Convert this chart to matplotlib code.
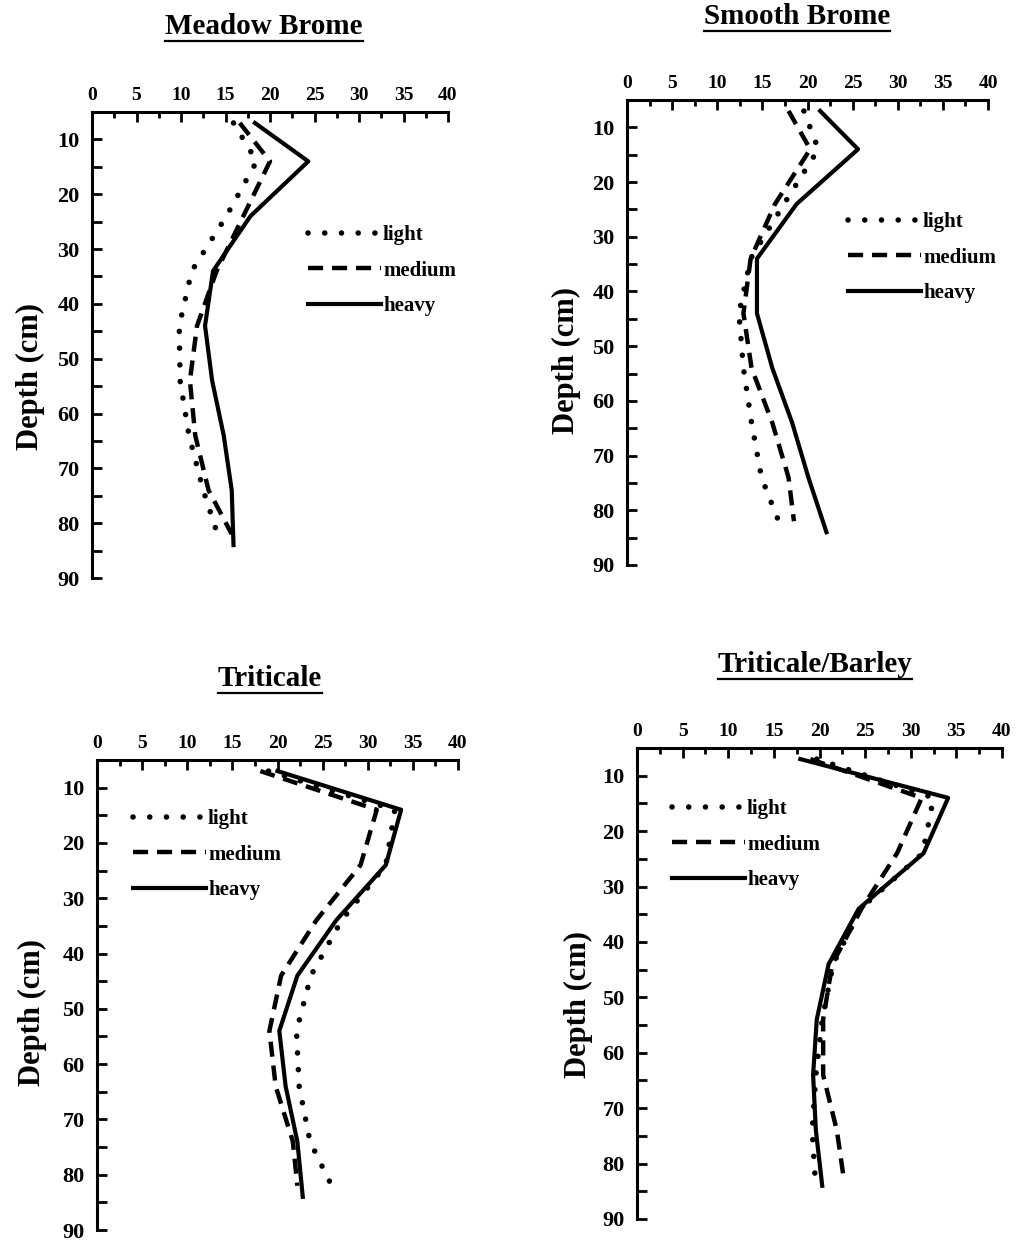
import matplotlib
matplotlib.use('Agg')
import matplotlib.pyplot as plt
from matplotlib.lines import Line2D
from matplotlib.ticker import MultipleLocator

plt.rcParams['font.family'] = ['Liberation Serif', 'DejaVu Serif']

W, H = 1019, 1245

# depth of each reading (cm); light/medium curves stop a bit shallower
depth = [7, 14, 24, 34, 44, 54, 64, 74, 84]
depth_short = [7, 14, 24, 34, 44, 54, 64, 74, 82]

titles = ['Meadow Brome', 'Smooth Brome', 'Triticale', 'Triticale/Barley']
labels = ['light', 'medium', 'heavy']

meadow_light = [15.9, 18.5, 15.1, 11.2, 9.8, 9.9, 10.9, 12.5, 14.1]
meadow_medium = [16.6, 20.0, 17.0, 14.0, 11.8, 11.0, 11.6, 13.1, 15.7]
meadow_heavy = [18.3, 24.3, 17.8, 13.6, 12.7, 13.5, 14.8, 15.7, 15.9]

smooth_light = [19.6, 21.2, 17.4, 13.7, 12.4, 12.9, 13.8, 14.9, 16.8]
smooth_medium = [17.9, 20.3, 16.4, 13.7, 12.9, 13.8, 16.1, 17.9, 18.5]
smooth_heavy = [21.4, 25.6, 18.8, 14.4, 14.4, 16.1, 18.3, 20.1, 22.1]

trit_light = [19.0, 33.0, 32.0, 27.1, 23.7, 22.1, 22.4, 23.6, 26.0]
trit_medium = [18.1, 31.0, 29.2, 24.3, 20.4, 19.1, 19.8, 21.7, 22.2]
trit_heavy = [20.0, 33.7, 32.0, 26.5, 22.2, 20.2, 20.9, 22.2, 22.8]

tb_light = [19.7, 32.5, 31.3, 24.5, 21.5, 20.3, 19.6, 19.2, 19.5]
tb_medium = [19.0, 31.2, 28.5, 24.6, 21.4, 20.4, 20.4, 21.9, 22.6]
tb_heavy = [17.9, 34.1, 31.4, 24.3, 21.0, 19.7, 19.3, 19.6, 20.3]

series = [
    (meadow_light, meadow_medium, meadow_heavy),
    (smooth_light, smooth_medium, smooth_heavy),
    (trit_light, trit_medium, trit_heavy),
    (tb_light, tb_medium, tb_heavy),
]

# layout in pixels: x=0, x=40, depth 5, depth 90
boxes = [(92, 448, 112, 578), (627, 988, 100, 565),
         (97, 458, 760, 1230), (637, 1002, 748, 1219)]
title_pos = [(264, 26), (797, 16), (270, 678), (815, 664)]
ylabel_pos = [(30, 376), (566, 360), (32, 1012), (578, 1005)]
legend_pos = [(308, 225), (848, 212), (133, 809), (672, 799)]

styles = [
    dict(linestyle=(0, (0.01, 3.0)), lw=4.0, dash_capstyle='round'),
    dict(linestyle=(0, (3.4, 2.0)), lw=3.2),
    dict(linestyle='-', lw=3.0),
]

fig = plt.figure(figsize=(W / 100, H / 100), dpi=100)

title_texts = []
for i in range(4):
    x0, x1, y0, y1 = boxes[i]
    ax = fig.add_axes([x0 / W, 1 - y1 / H, (x1 - x0) / W, (y1 - y0) / H])
    light, medium, heavy = series[i]
    ax.plot(light, depth_short, color='black', **styles[0])
    ax.plot(medium, depth_short, color='black', **styles[1])
    ax.plot(heavy, depth, color='black', **styles[2])

    ax.set_xlim(0, 40)
    ax.set_ylim(90, 5)
    ax.spines['right'].set_visible(False)
    ax.spines['bottom'].set_visible(False)
    ax.spines['top'].set_linewidth(2.2)
    ax.spines['left'].set_linewidth(2.2)
    ax.xaxis.tick_top()
    ax.xaxis.set_major_locator(MultipleLocator(5))
    ax.xaxis.set_minor_locator(MultipleLocator(2.5))
    ax.set_yticks(range(10, 91, 10))
    ax.yaxis.set_minor_locator(MultipleLocator(5))
    ax.tick_params(axis='x', which='major', direction='in', length=7, width=2,
                   labelsize=14, pad=6)
    ax.tick_params(axis='x', which='minor', direction='in', length=4, width=2)
    ax.tick_params(axis='y', which='both', direction='in', length=7, width=2,
                   labelsize=16, pad=9)
    for t in ax.get_xticklabels() + ax.get_yticklabels():
        t.set_fontweight('bold')

    handles = [Line2D([0], [0], color='black', **s) for s in styles]
    lx, ly = legend_pos[i]
    ax.legend(handles, labels, loc='upper left', frameon=False,
              bbox_to_anchor=(lx / W, 1 - ly / H), bbox_transform=fig.transFigure,
              borderpad=0, borderaxespad=0, handlelength=3.5, handletextpad=0.1,
              labelspacing=0.75, prop={'weight': 'bold', 'size': 15})

    tx, ty = title_pos[i]
    title_texts.append(fig.text(tx / W, 1 - ty / H, titles[i], ha='center', va='center',
                                fontsize=21, fontweight='bold'))
    yx, yy = ylabel_pos[i]
    fig.text(yx / W, 1 - yy / H, 'Depth (cm)', rotation=90, ha='center', va='center',
             fontsize=22, fontweight='bold')

# underline the panel titles
fig.canvas.draw()
renderer = fig.canvas.get_renderer()
for t in title_texts:
    bb = t.get_window_extent(renderer)
    yline = (bb.y0 - 1) / H
    fig.add_artist(Line2D([bb.x0 / W, bb.x1 / W], [yline, yline], color='black', lw=1.6,
                          transform=fig.transFigure))

fig.savefig('out.png', dpi=100)
